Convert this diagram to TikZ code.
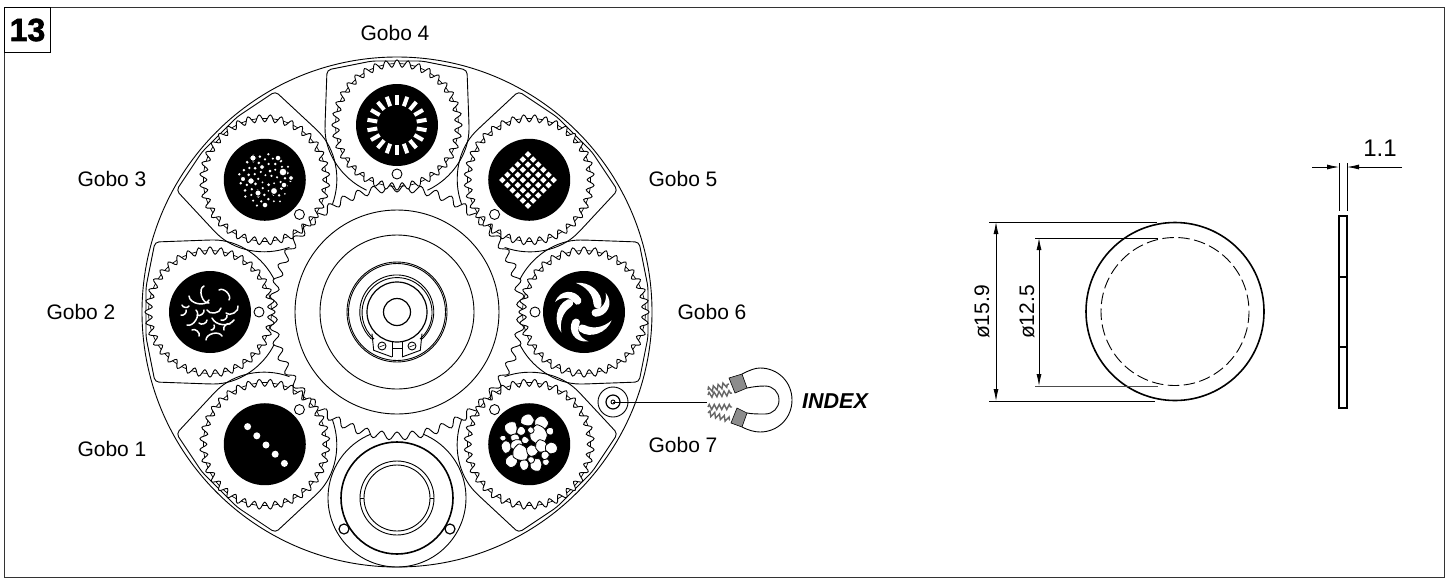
\documentclass[tikz,border=0pt]{standalone}
\usepackage{fontspec}
\setmainfont{Liberation Sans}
\usetikzlibrary{arrows.meta,decorations.pathmorphing}
\tikzset{
  thinline/.style={line width=.9pt,black},
  plateline/.style={line width=.9pt,black,rounded corners=4pt},
  gobolabel/.style={font=\fontsize{21}{24}\selectfont,inner sep=0pt},
  dimline/.style={line width=.8pt,{Latex[length=12pt,width=5pt]}-{Latex[length=12pt,width=5pt]}},
  dimtip/.style={line width=.8pt,-{Latex[length=12pt,width=5pt]}},
  coil/.style={draw=black!60,line width=1.4pt,decorate,decoration={zigzag,amplitude=2.6pt,segment length=5pt}}
}
\begin{document}
\begin{tikzpicture}[x=1pt,y=-1pt]
\useasboundingbox (0,0) rectangle (1448,582);
\draw[line width=1pt,black!80] (4,7) rectangle (1444,577);
\node[draw,line width=1pt,minimum width=46pt,minimum height=45pt,inner sep=0pt,anchor=north west,font=\fontsize{32}{32}\selectfont\bfseries\addfontfeatures{FakeBold=2}] (fignum) at (4,7) {13};
\node[gobolabel] (gobofour) at (395,33) {Gobo 4};
\node[gobolabel] (gobothree) at (112,179) {Gobo 3};
\node[gobolabel] (gobofive) at (683,179) {Gobo 5};
\node[gobolabel] (gobotwo) at (81,312) {Gobo 2};
\node[gobolabel] (gobosix) at (712,312) {Gobo 6};
\node[gobolabel] (goboone) at (112,449) {Gobo 1};
\node[gobolabel] (goboseven) at (683,445) {Gobo 7};
\node[inner sep=0pt,font=\fontsize{21.5}{24}\selectfont\bfseries\itshape] (indexlbl) at (835,401) {INDEX};
\begin{scope}[shift={(397,312)},y=1pt]
\draw[thinline] (0,0) circle[radius=255];
\draw[thinline] (0,-186) circle[radius=69];
\foreach \rt in {0,45,90,135,-45,-90,-135}
  \draw[plateline,rotate=\rt] (-30.4,121.8) arc[start angle=245,end angle=180,radius=72]
    -- (-70,242) -- (-25,251) -- (25,251) -- (70,242) -- (72,187)
    arc[start angle=0,end angle=-65,radius=72];
\draw[thinline,fill=white] plot[samples=401,domain=0:360] ({(124+4*cos(50*mod(\x,360/50)))*cos(\x)},{(124+4*cos(50*mod(\x,360/50)))*sin(\x)}) -- cycle;
\foreach \rt in {0,45,90,135,-45,-90,-135}{
  \begin{scope}[rotate=\rt,shift={(0,187)}]
  \draw[thinline,fill=white] plot[samples=289,domain=0:360] ({(61.5+3.6*cos(36*mod(\x,360/36)))*cos(\x)},{(61.5+3.6*cos(36*mod(\x,360/36)))*sin(\x)}) -- cycle;
  \foreach \tn in {0,...,35}
    \draw[line width=.7pt] ({(\tn+.5)*10-2.6}:61.5) -- ({(\tn+.5)*10+2.6}:61.5);
  \draw[thinline] (0,-49) circle[radius=5];
  \fill (0,0) circle[radius=41];
  \end{scope}
}
\draw[thinline] (0,0) circle[radius=102];
\draw[thinline] (0,0) circle[radius=77];
\draw[thinline] (0,0) circle[radius=50];
\draw[thinline] (0,0) circle[radius=48.5];
\draw[thinline] (-25,-21.7) -- (-23.3,-38.3) -- (-5,-45) (5,-45) -- (23.3,-38.3) -- (25,-21.7);
\draw[thinline] (25,-27) arc[start angle=-47,end angle=227,radius=37];
\draw[thinline] (23,-27) arc[start angle=-49,end angle=229,radius=35];
\draw[line width=1.2pt] (0,0) circle[radius=30];
\draw[line width=1.2pt] (0,0) circle[radius=13.5];
\draw[thinline] (-5,-30) -- (-5,-45) (5,-30) -- (5,-45) (-5,-36) -- (5,-36);
\foreach \sx in {-15,15} {
  \draw[thinline] (\sx,-34) circle[radius=4];
  \draw[line width=.6pt] (\sx-2.5,-35) -- (\sx+2.5,-33);
}
\begin{scope}[shift={(0,-186)}]
\draw[line width=1.6pt] (0,0) circle[radius=56];
\draw[thinline] (0,0) circle[radius=37];
\draw[thinline] (0,0) circle[radius=33];
\draw[thinline] (-37,0) -- (-33,0) (33,0) -- (37,0);
\foreach \sx in {-53,53}
  \draw[line width=1.2pt,fill=white] (\sx,-31) circle[radius=5];
\end{scope}
\end{scope}
%gobo 4
\begin{scope}[shift={(397,125)}]
\foreach \ang in {0,20,...,340}
  \fill[white,rotate=\ang] (-2,-30) rectangle (2,-20);
\end{scope}
%gobo 5
\begin{scope}[shift={(528,180)},rotate=45]
\foreach \ia in {-2.5,-1.5,...,2.5}
  \foreach \ib in {-2.5,-1.5,...,2.5}
    \fill[white] ({\ia*7.25-2.3},{\ib*7.25-2.3}) rectangle ++(4.6,4.6);
\end{scope}
%gobo 6
\begin{scope}[shift={(583,312)}]
\foreach \ang in {0,120,240} {
  \fill[white,rotate=\ang] (-7,-29) .. controls (6,-31) and (20,-20) .. (18.5,-7)
    .. controls (18,-2) and (10.5,-2.5) .. (10.5,-8)
    .. controls (10,-17) and (4,-25) .. (-7,-29);
  \fill[white,rotate=\ang] (-28,-10) .. controls (-23,-23) and (-8,-23) .. (-2,-13)
    .. controls (0,-8) and (-7,-5) .. (-9,-9.5)
    .. controls (-12,-15) and (-21,-16) .. (-28,-10);
}
\end{scope}
%gobo 7
\begin{scope}[shift={(528,443)}]
\pgfmathsetseed{7}
\foreach \bx/\by/\br in {-17/-15/5.5,-1/-23/5,13/-20/5.5,22/-12/3.5,11/-8/7.5,-7/-12/3.5,-13/-5/3.5,-22/4/4.5,-11/2/5,-3/-3/3,3/-13/2.5,-16/18/5,-4/22/4,8/22/5.5,18/19/3,-7/10/6.5,4/8/4.5,13/3/5,24/5/5,17/12/3.5,3/17/2.5,-25/-5/2.5}
  \fill[white,draw=black,line width=.8pt] plot[samples=7,domain=0:308,smooth cycle,tension=.4] ({\bx+\br*(1.05+.4*rnd)*cos(\x)},{\by+\br*(1.05+.4*rnd)*sin(\x)});
\end{scope}
%gobo 1
\begin{scope}[shift={(265,444)}]
\foreach \dk in {-2,...,2}
  \fill[white] ({1+\dk*9.2},{1+\dk*9.2}) circle[radius=3.5];
\end{scope}
%gobo 3
\begin{scope}[shift={(265,180)}]
\pgfmathsetseed{3}
\foreach \dk in {1,...,62}
  \fill[white] ({27*sqrt(\dk/62)*cos(137.5*\dk)},{27*sqrt(\dk/62)*sin(137.5*\dk)}) circle[radius={.9+.6*rnd}];
\foreach \bx/\by/\br in {-12/-22/3.3,13/-22/3,18/-8/4,-22/-1/2.7,-14/1/3.4,9/11/3.6,-7/13/3.2,19/5/3,0/25/3,26/-2/2.5,-3/-13/2.5,5/-9/2}
  \fill[white,draw=black,line width=1pt] (\bx,\by) circle[radius=\br];
\end{scope}
%gobo 2
\begin{scope}[shift={(210,312)}]
\foreach \xa/\ya/\xb/\yb/\bd in {-6/-26/-1/-9/-85,-21/-16/-1/-12/-75,-23/13/-14/-2/-80,9/-22/19/-12/80,16/1/28/-6/-80,-3/-2/11/-4/-75,2/6/24/8/-60,20/12/14/18/-80,-4/28/12/24/75,-18/18/-11/24/80,-29/3/-24/-2/-70,-28/-7/-21/-6/-70,-11/11/-3/8/-70,-13/3/-6/-2/-70,11/8/17/3/-70,1/18/4/13/-70}
  \draw[white,line width=1.5pt,line cap=round] (\xa,\ya) to[bend left=\bd] (\xb,\yb);
\end{scope}
%index
\coordinate (holecentre) at (613,402);
\coordinate (coilend) at (707,402);
\draw[thinline] (holecentre) circle[radius=15];
\draw[line width=1.2pt] (holecentre) circle[radius=7];
\draw[thinline] (holecentre) circle[radius=2];
\draw[thinline] (holecentre) -- (coilend);
\draw[coil] (708,390) -- (729,384);
\draw[coil] (708,395) -- (732,393);
\draw[coil] (708,407) -- (732,407);
\draw[coil] (708,413) -- (730,420);
\draw[thinline] (742,374) .. controls (750,370) and (755,368) .. (760,368)
  .. controls (778,368) and (792,382) .. (792,400) .. controls (792,418) and (778,432) .. (760,432)
  .. controls (754,432) and (748,430) .. (742,427) (747,413) .. controls (752,414) and (758,414) .. (765,414)
  .. controls (773,414) and (779,408) .. (779,400) .. controls (779,392) and (773,386) .. (765,386)
  .. controls (758,386) and (752,387) .. (747,388);
\draw[line width=.6pt,fill=black!45] (729,378) -- (742,374) -- (747,388) -- (735,393) -- cycle;
\draw[line width=.6pt,fill=black!45] (737,408) -- (747,413) -- (742,427) -- (731,423) -- cycle;
%washer
\coordinate (washer) at (1175,311.5);
\draw[line width=1.6pt] (washer) circle[radius=89];
\draw[thinline,dash pattern=on 11.5pt off 4.5pt] (washer) circle[radius=74];
\coordinate (odtopl) at (989,222);
\coordinate (odtopr) at (1157,222);
\coordinate (odbotl) at (989,401);
\coordinate (odbotr) at (1155,401);
\coordinate (idtopl) at (1035,238);
\coordinate (idtopr) at (1158,238);
\coordinate (idbotl) at (1035,386);
\coordinate (idbotr) at (1158,386);
\draw[thinline] (odtopl) -- (odtopr);
\draw[thinline] (odbotl) -- (odbotr);
\draw[thinline] (idtopl) -- (idtopr);
\draw[line width=1pt,black!70] (idbotl) -- (idbotr);
\coordinate (odup) at (996,222);
\coordinate (oddown) at (996,401);
\coordinate (idup) at (1039,238);
\coordinate (iddown) at (1039,386);
\draw[dimline] (odup) -- (oddown);
\draw[dimline] (idup) -- (iddown);
\node[gobolabel,rotate=90] (odlbl) at (982,312) {ø15.9};
\node[gobolabel,rotate=90] (idlbl) at (1027,312) {ø12.5};
%side view
\draw[line width=1.2pt] (1339,216) rectangle (1347,408);
\draw[line width=1.2pt] (1339,277) -- (1347,277) (1339,347) -- (1347,347);
\coordinate (thickl) at (1339,167);
\coordinate (thickr) at (1347,167);
\coordinate (thickla) at (1312,167);
\coordinate (thickra) at (1402,167);
\draw[thinline] (1339,163) -- (1339,211) (1347,163) -- (1347,211);
\draw[dimtip] (thickla) -- (thickl);
\draw[dimtip] (thickra) -- (thickr);
\node[inner sep=0pt,font=\fontsize{24}{26}\selectfont] (thicklbl) at (1380,148) {1.1};
\end{tikzpicture}
\end{document}
